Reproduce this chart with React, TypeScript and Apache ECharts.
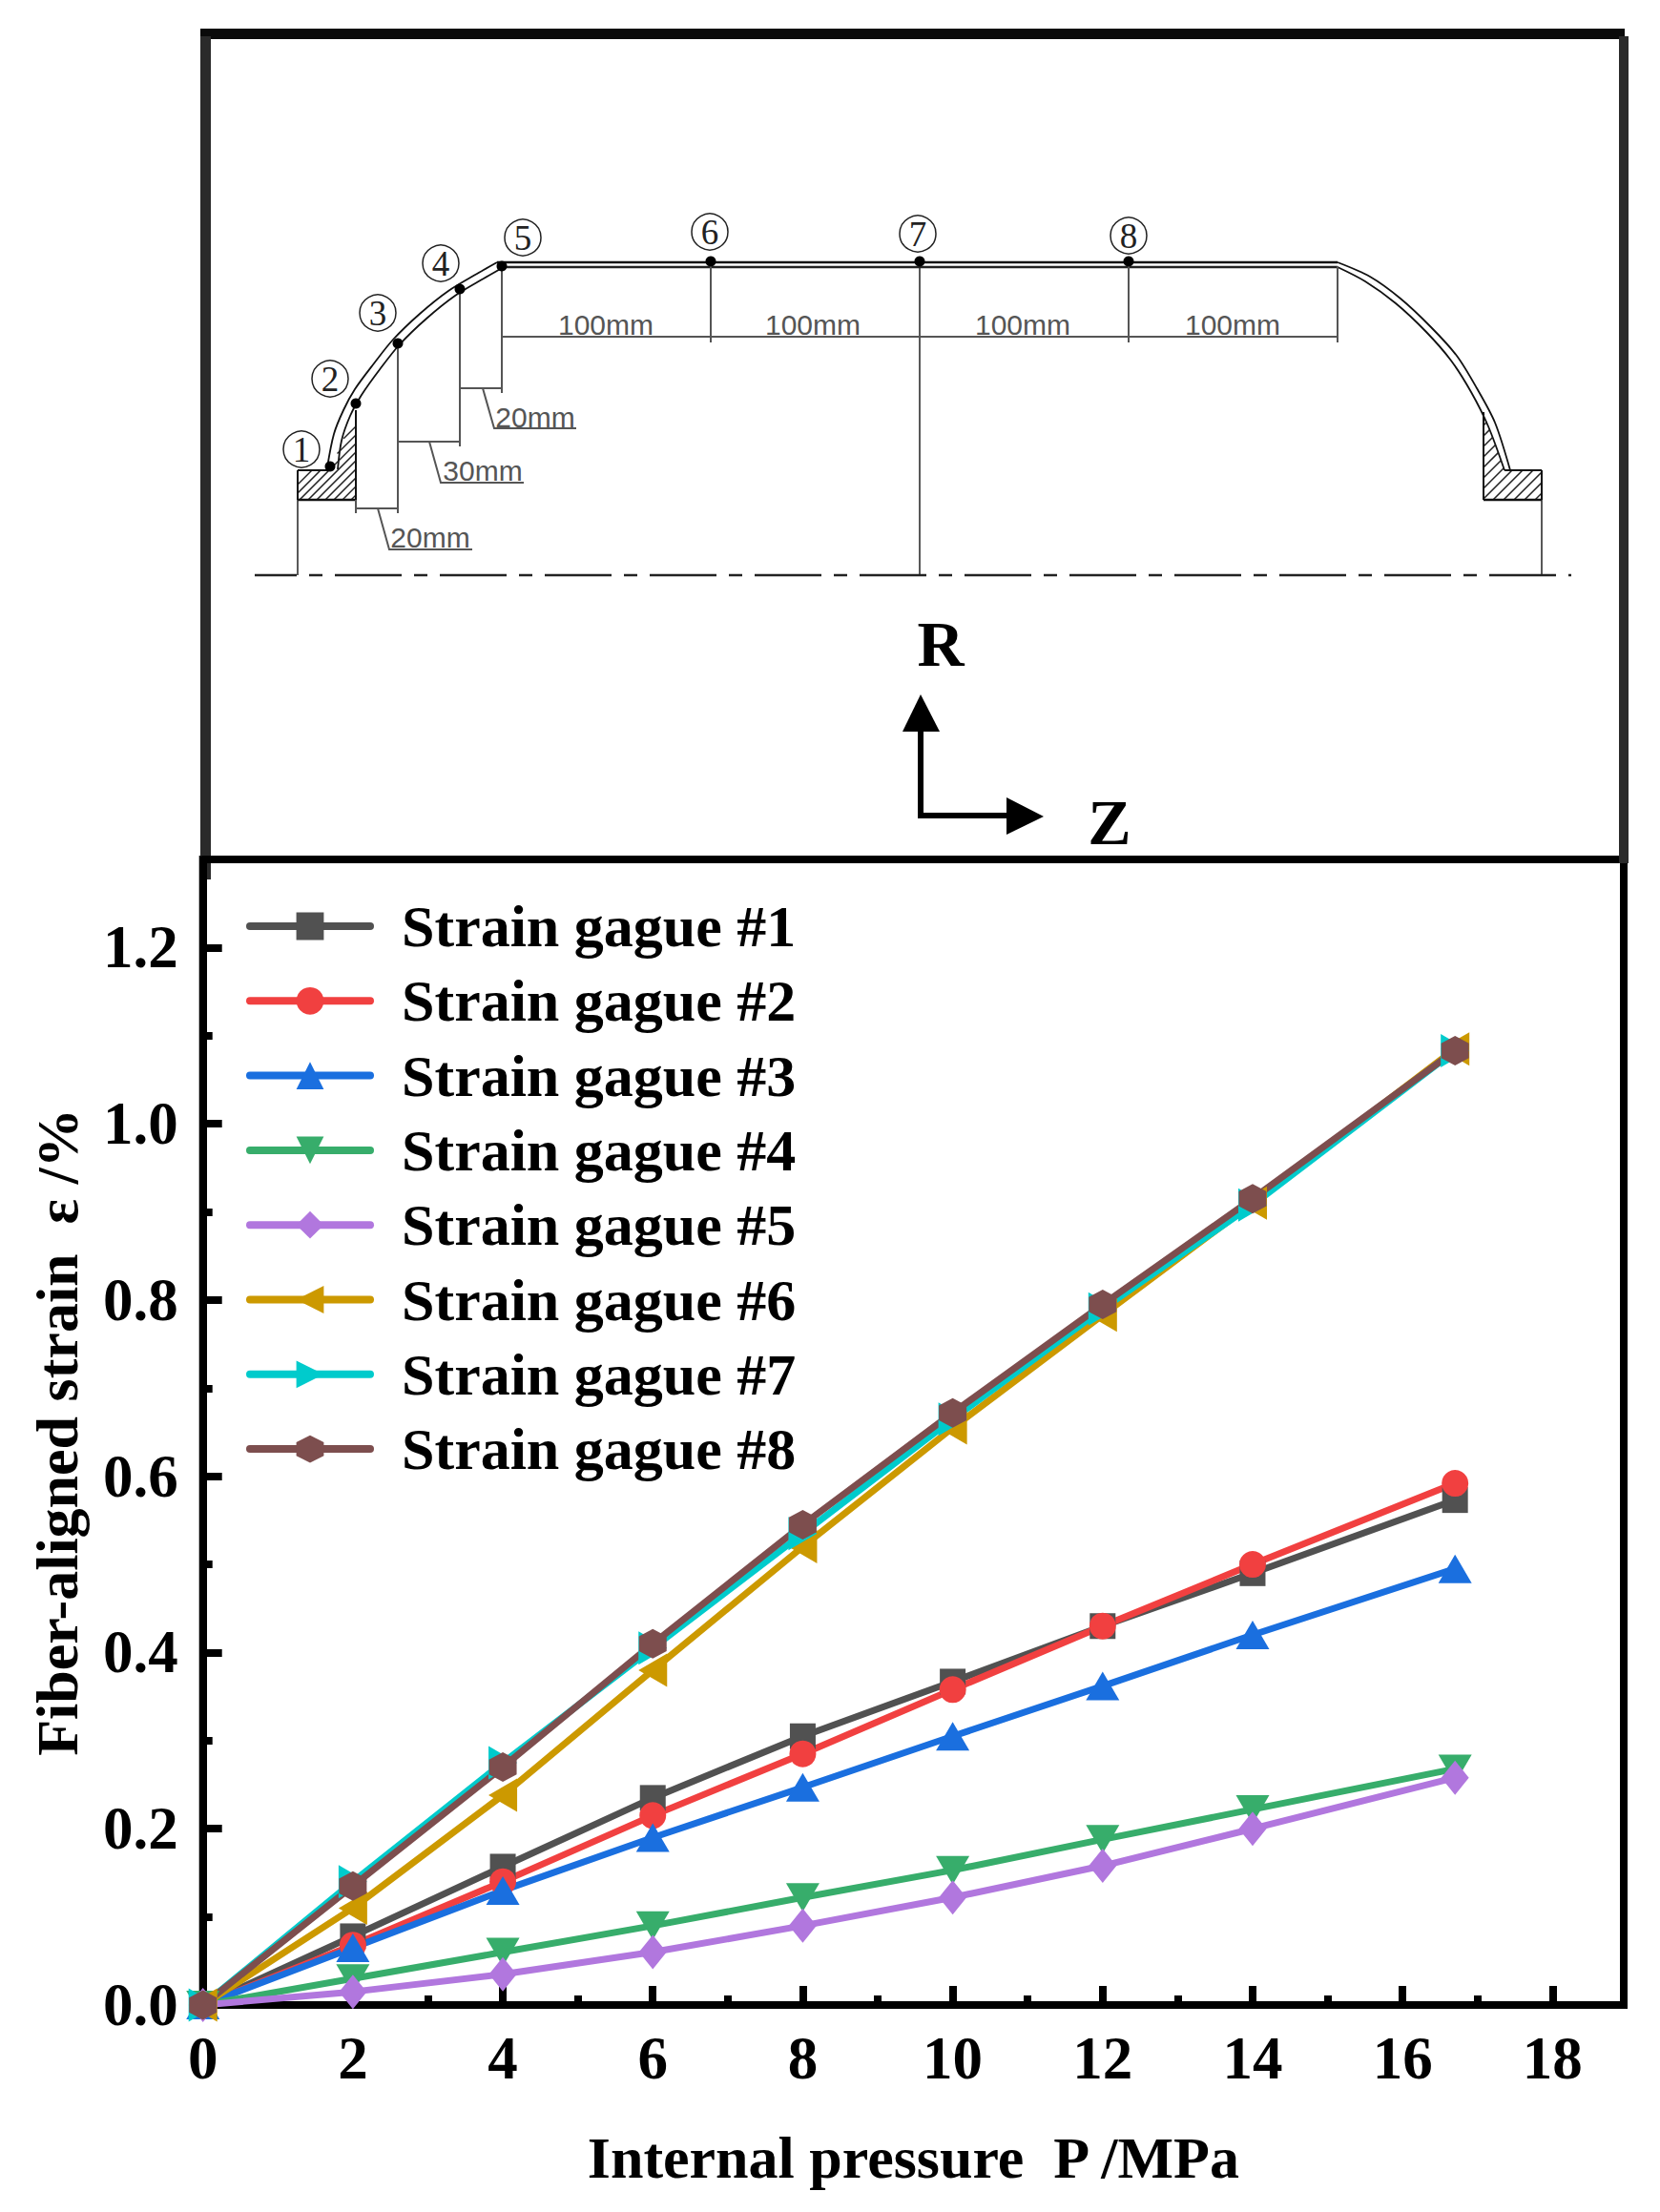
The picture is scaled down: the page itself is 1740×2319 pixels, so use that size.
import React, { useEffect, useRef } from "react";
import * as echarts from "echarts";

const pressure = [0, 2, 4, 6, 8, 10, 12, 14, 16.7];
const gauge1 = [0, 0.078, 0.157, 0.235, 0.305, 0.367, 0.43, 0.49, 0.573];
const gauge2 = [0, 0.068, 0.14, 0.215, 0.285, 0.358, 0.43, 0.5, 0.592];
const gauge3 = [0, 0.065, 0.13, 0.19, 0.247, 0.305, 0.362, 0.42, 0.495];
const gauge4 = [0, 0.03, 0.06, 0.09, 0.122, 0.153, 0.188, 0.222, 0.268];
const gauge5 = [0, 0.015, 0.035, 0.06, 0.09, 0.122, 0.158, 0.2, 0.258];
const gauge6 = [0, 0.11, 0.238, 0.38, 0.52, 0.655, 0.783, 0.91, 1.085];
const gauge7 = [0, 0.14, 0.275, 0.405, 0.535, 0.665, 0.79, 0.908, 1.083];
const gauge8 = [0, 0.135, 0.27, 0.41, 0.545, 0.672, 0.795, 0.915, 1.083];
const gaugeValues = [gauge1, gauge2, gauge3, gauge4, gauge5, gauge6, gauge7, gauge8];
const gaugeNames = gaugeValues.map((_, i) => `Strain gague #${i + 1}`);
const colors = ["#515151", "#F14040", "#1A6FDF", "#37AD6B", "#B177DE", "#CC9900", "#00CBCC", "#7D4E4E"];
const symbols = [
  "rect",
  "circle",
  "path://M1 0L2 2H0Z",
  "path://M0 0H2L1 2Z",
  "diamond",
  "path://M0 1L2 0V2Z",
  "path://M2 1L0 2V0Z",
  "path://M1 0L2 0.5V1.5L1 2L0 1.5V0.5Z",
];
const symbolSizes: any[] = [27, 28, [35, 30], [35, 30], [29, 36], [30, 35], [30, 35], [29, 31]];

const SERIF = "Liberation Serif";
const SANS = "Liberation Sans";
type P = [number, number];

function seg(x1: number, y1: number, x2: number, y2: number, stroke = "#555", lineWidth = 2, extra: any = {}) {
  return { type: "line", silent: true, shape: { x1, y1, x2, y2 }, style: { stroke, lineWidth, ...extra } };
}
function hatch(poly: P[], cFrom: number, cTo: number, step: number) {
  const out: any[] = [];
  for (let c = cFrom; c <= cTo; c += step) {
    const hits: P[] = [];
    poly.forEach((a, i) => {
      const b = poly[(i + 1) % poly.length];
      const fa = a[0] + a[1] - c;
      const fb = b[0] + b[1] - c;
      if (fa * fb < 0) {
        const t = fa / (fa - fb);
        hits.push([a[0] + (b[0] - a[0]) * t, a[1] + (b[1] - a[1]) * t]);
      }
    });
    hits.sort((p, q) => p[0] - q[0]);
    for (let i = 0; i + 1 < hits.length; i += 2) {
      out.push(seg(hits[i][0], hits[i][1], hits[i + 1][0], hits[i + 1][1], "#222", 1.5));
    }
  }
  return out;
}
function curve(points: P[], lineWidth = 1.8) {
  return {
    type: "polyline",
    silent: true,
    shape: { points, smooth: 0.3 },
    style: { stroke: "#111", lineWidth, fill: "none" },
  };
}
function label(text: string, x: number, y: number, fontSize: number, fontFamily: string, fill: string, fontWeight = "normal") {
  return {
    type: "text",
    silent: true,
    x,
    y,
    style: { text, fontSize, fontFamily, fill, fontWeight, align: "center", verticalAlign: "middle" },
  };
}
function poly(points: P[], fill = "#000") {
  return { type: "polygon", silent: true, shape: { points }, style: { fill } };
}
function leader(points: P[]) {
  return { type: "polyline", silent: true, shape: { points }, style: { stroke: "#555", lineWidth: 2, fill: "none" } };
}

const gaugeMarks: P[] = [[346, 489], [373, 423], [417, 360], [482, 303], [526, 279], [745, 274], [964, 274], [1183, 274]];
const gaugeCircles: P[] = [[316, 471], [346, 397], [396, 328], [462, 276], [548, 249], [744, 243], [962, 245], [1183, 247]];
const gaugeDigits = ["1", "2", "3", "4", "5", "6", "7", "8"];
const wallLeftOuter: P[] = [[343, 490], [350, 455], [360, 430], [372, 408], [392, 381], [412, 356], [440, 329], [470, 305], [500, 287], [521, 275]];
const wallLeftInner: P[] = [[354, 492], [358, 462], [367, 436], [379, 414], [399, 386], [419, 361], [447, 334], [477, 310], [507, 292], [528, 280]];
const wallRightOuter: P[] = [[1402, 275], [1436, 290], [1468, 313], [1500, 343], [1527, 373], [1548, 407], [1567, 443], [1583, 493]];
const wallRightInner: P[] = [[1402, 280], [1431, 295], [1463, 318], [1495, 348], [1521, 378], [1542, 411], [1560, 447], [1577, 493]];

function buildGraphic(): any[] {
  const g: any[] = [];
  g.push(seg(210, 35.5, 1703, 35.5, "#0a0a0a", 11));
  g.push(seg(215.5, 38, 215.5, 922, "#2a2a2a", 11));
  g.push(seg(1702, 38, 1702, 905, "#2a2a2a", 10));

  // vessel wall, two lines a few pixels apart
  g.push(curve(wallLeftOuter));
  g.push(curve(wallLeftInner));
  g.push(seg(521, 275, 1402, 275, "#111", 2.5));
  g.push(seg(528, 280, 1402, 280, "#222", 2.5));
  g.push(curve(wallRightOuter));
  g.push(curve(wallRightInner));

  // flanges
  const left: P[] = [[312, 493], [346, 493], [373, 430], [373, 524], [312, 524]];
  const right: P[] = [[1555, 432], [1577, 493], [1616, 493], [1616, 524], [1555, 524]];
  g.push(...hatch(left, 820, 900, 9));
  g.push(...hatch(right, 1990, 2140, 11));
  g.push(seg(312, 493, 346, 493, "#111", 2));
  g.push(seg(312, 493, 312, 524, "#111", 2));
  g.push(seg(312, 524, 373, 524, "#111", 2.5));
  g.push(seg(373, 430, 373, 524, "#111", 2));
  g.push(seg(1555, 432, 1555, 524, "#111", 2));
  g.push(seg(1577, 493, 1616, 493, "#111", 2));
  g.push(seg(1616, 493, 1616, 524, "#111", 2));
  g.push(seg(1555, 524, 1616, 524, "#111", 2.5));

  // centre line and verticals
  g.push(seg(267, 603, 1647, 603, "#222", 2.5, { lineDash: [70, 13, 14, 13], lineDashOffset: 26 }));
  g.push(seg(312, 524, 312, 603, "#222", 1.5));
  g.push(seg(1616, 524, 1616, 603, "#222", 1.5));
  g.push(seg(964, 279, 964, 603, "#222", 1.5));

  // dimension lines
  g.push(seg(526, 353, 1402, 353));
  [745, 1183, 1402].forEach((x) => g.push(seg(x, 279, x, 359)));
  g.push(seg(526, 279, 526, 412));
  g.push(seg(482, 303, 482, 468));
  g.push(seg(417, 360, 417, 538));
  g.push(seg(373, 524, 373, 538));
  g.push(seg(482, 407, 526, 407));
  g.push(seg(417, 463, 482, 463));
  g.push(seg(373, 533, 417, 533));
  g.push(leader([[506, 407], [518, 449], [604, 449]]));
  g.push(leader([[450, 463], [462, 506], [549, 506]]));
  g.push(leader([[396, 533], [408, 576], [495, 576]]));
  [635, 852, 1072, 1292].forEach((x) => g.push(label("100mm", x, 340, 30, SANS, "#555")));
  g.push(label("20mm", 561, 437, 30, SANS, "#555"));
  g.push(label("30mm", 506, 493, 30, SANS, "#555"));
  g.push(label("20mm", 451, 563, 30, SANS, "#555"));

  // gauge positions
  gaugeMarks.forEach(([x, y]) =>
    g.push({ type: "circle", silent: true, shape: { cx: x, cy: y, r: 5.5 }, style: { fill: "#000" } })
  );
  gaugeCircles.forEach(([x, y], i) => {
    g.push({ type: "circle", silent: true, shape: { cx: x, cy: y, r: 19 }, style: { fill: "#fff", stroke: "#222", lineWidth: 1.5 } });
    g.push(label(gaugeDigits[i], x, y, 37, SERIF, "#222"));
  });

  // R / Z arrows
  g.push(seg(965, 767, 965, 857, "#000", 6));
  g.push(poly([[965, 728], [946, 767], [985, 767]]));
  g.push(seg(962, 855, 1056, 855, "#000", 6));
  g.push(poly([[1055, 836], [1055, 875], [1094, 856]]));
  g.push(label("R", 986, 675, 68, SERIF, "#000", "bold"));
  g.push(label("Z", 1163, 862, 68, SERIF, "#000", "bold"));
  return g;
}

export default function App() {
  const ref = useRef<HTMLDivElement>(null);
  useEffect(() => {
    const chart = echarts.init(ref.current!, undefined, { renderer: "svg" });
    const axisFont = { fontFamily: SERIF, fontWeight: "bold", fontSize: 62, color: "#000" };
    const tickFont = { ...axisFont, fontSize: 63 };
    const mainLine = { show: true, onZero: false, lineStyle: { color: "#000", width: 8 } };
    chart.setOption({
      animation: false,
      backgroundColor: "#fff",
      graphic: buildGraphic(),
      grid: {
        left: 212.7,
        right: 38,
        top: 901,
        bottom: 217,
        outerBoundsMode: "none",
        show: true,
        borderColor: "#000",
        borderWidth: 8,
        backgroundColor: "transparent",
      },
      legend: {
        orient: "vertical",
        left: 258,
        top: 940,
        padding: 0,
        itemWidth: 126,
        itemHeight: 36,
        itemGap: 16.3,
        data: gaugeNames,
        selectedMode: false,
        lineStyle: { width: 8, cap: "round" },
        textStyle: { ...axisFont, lineHeight: 62, padding: [0, 0, 0, 28] },
      },
      xAxis: [
        {
          type: "value",
          min: 0,
          max: 18.95,
          interval: 2,
          name: "Internal pressure  P /MPa",
          nameLocation: "middle",
          nameGap: 129,
          nameTextStyle: axisFont,
          axisLine: mainLine,
          axisTick: { inside: true, length: 20, lineStyle: { color: "#000", width: 8 } },
          axisLabel: { ...tickFont, margin: 24, showMaxLabel: false },
          splitLine: { show: false },
        },
        {
          type: "value",
          position: "bottom",
          min: 0,
          max: 18.95,
          interval: 1,
          axisLine: { show: false },
          axisTick: { inside: true, length: 10, lineStyle: { color: "#000", width: 8 } },
          axisLabel: { show: false },
          splitLine: { show: false },
        },
      ],
      yAxis: [
        {
          type: "value",
          min: 0,
          max: 1.3,
          interval: 0.2,
          name: "Fiber-aligned strain  ε /%",
          nameLocation: "middle",
          nameGap: 122,
          nameTextStyle: axisFont,
          axisLine: mainLine,
          axisTick: { inside: true, length: 20, lineStyle: { color: "#000", width: 8 } },
          axisLabel: { ...tickFont, margin: 26, showMaxLabel: false, formatter: (v: number) => v.toFixed(1) },
          splitLine: { show: false },
        },
        {
          type: "value",
          position: "left",
          min: 0,
          max: 1.3,
          interval: 0.1,
          axisLine: { show: false },
          axisTick: { inside: true, length: 10, lineStyle: { color: "#000", width: 8 } },
          axisLabel: { show: false },
          splitLine: { show: false },
        },
      ],
      series: gaugeValues.map((vals, i) => ({
        name: gaugeNames[i],
        type: "line",
        clip: false,
        data: vals.map((v, j) => [pressure[j], v]),
        symbol: symbols[i],
        symbolSize: symbolSizes[i],
        showSymbol: true,
        lineStyle: { color: colors[i], width: 7 },
        itemStyle: { color: colors[i] },
      })),
    });
    return () => chart.dispose();
  }, []);
  return <div ref={ref} style={{ position: "absolute", left: 0, top: 0, width: 1740, height: 2319 }} />;
}
